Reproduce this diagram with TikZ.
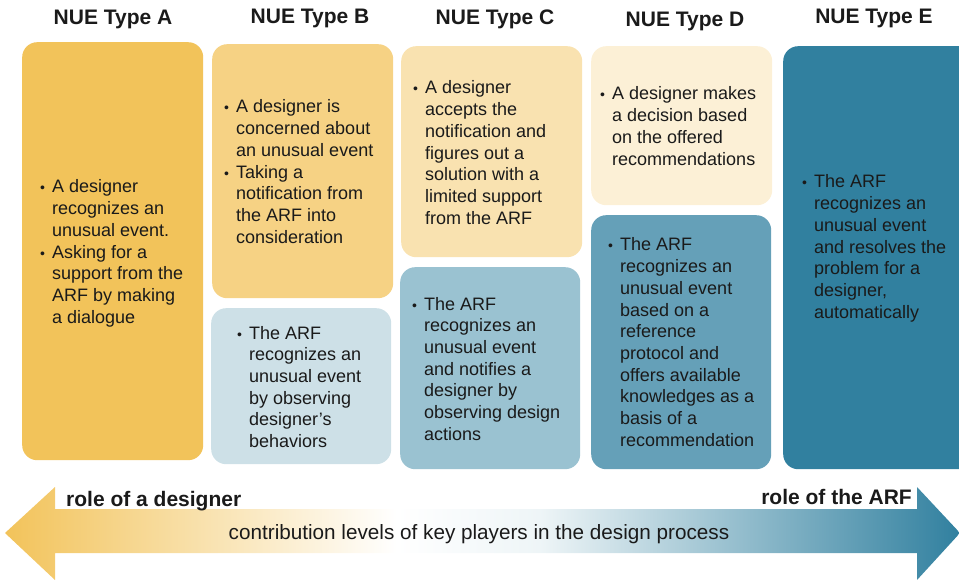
\documentclass[tikz,border=0pt]{standalone}
\usepackage{fontspec}
\setmainfont{Liberation Sans}
\definecolor{cA}{HTML}{F2C35A}
\definecolor{cBt}{HTML}{F6D284}
\definecolor{cCt}{HTML}{F9E2B0}
\definecolor{cDt}{HTML}{FCF0D6}
\definecolor{cBb}{HTML}{CDE0E7}
\definecolor{cCb}{HTML}{9AC2D1}
\definecolor{cDb}{HTML}{65A0B8}
\definecolor{cE}{HTML}{31809F}
\definecolor{txtc}{HTML}{1A1A1A}
\definecolor{midb}{HTML}{EEF5F7}
\pgfdeclarehorizontalshading{arrshade}{100bp}{color(0bp)=(cA); color(25bp)=(cA); color(45.5bp)=(white); color(53bp)=(midb); color(75bp)=(cE); color(100bp)=(cE)}
\newcommand{\bul}{\makebox[12pt][l]{\fontsize{14}{14}\selectfont •}}
\newcommand{\ind}{\hspace*{12pt}}
\tikzset{
  box/.style={rounded corners=15pt, anchor=north west, inner sep=0pt, draw=none},
  hdr/.style={font=\bfseries\fontsize{21}{25}\selectfont, text=txtc, inner sep=0pt},
  body/.style={anchor=base west, inner sep=0pt, text=txtc, font=\fontsize{18}{21.7}\selectfont},
  lbl/.style={font=\bfseries\fontsize{21}{25}\selectfont, text=txtc, inner sep=0pt},
}
\begin{document}
\begin{tikzpicture}[x=1pt,y=-1pt]
\useasboundingbox (0,0) rectangle (959,580);
\clip (0,0) rectangle (959,580);
% headers
\node[hdr] (hA) at (113,19) {NUE Type A};
\node[hdr] (hB) at (310,18) {NUE Type B};
\node[hdr] (hC) at (495,19) {NUE Type C};
\node[hdr] (hD) at (685,21) {NUE Type D};
\node[hdr] (hE) at (874,18) {NUE Type E};
% boxes
\node[box, fill=cA, minimum width=181pt, minimum height=418pt] (bA) at (22,42) {};
\node[box, fill=cBt, minimum width=181pt, minimum height=254pt] (bBt) at (212,44) {};
\node[box, fill=cBb, minimum width=180pt, minimum height=156pt] (bBb) at (211,308) {};
\node[box, fill=cCt, minimum width=181pt, minimum height=211pt] (bCt) at (401,46) {};
\node[box, fill=cCb, minimum width=180pt, minimum height=202pt] (bCb) at (400,267) {};
\node[box, fill=cDt, minimum width=181pt, minimum height=159pt] (bDt) at (591,46) {};
\node[box, fill=cDb, minimum width=180pt, minimum height=254pt] (bDb) at (591,215) {};
\node[box, fill=cE, minimum width=195pt, minimum height=423pt] (bE) at (783,46) {};
% texts
\node[body] (tA) at (40,193) {\begin{tabular}[t]{@{}l@{}}\bul A designer\\ \ind recognizes an\\ \ind unusual event.\\ \bul Asking for a\\ \ind support from the\\ \ind ARF by making\\ \ind a dialogue\end{tabular}};
\node[body] (tBt) at (224,113) {\begin{tabular}[t]{@{}l@{}}\bul A designer is\\ \ind concerned about\\ \ind an unusual event\\ \bul Taking a\\ \ind notification from\\ \ind the ARF into\\ \ind consideration\end{tabular}};
\node[body] (tBb) at (237,339) {\begin{tabular}[t]{@{}l@{}}\bul The ARF\\ \ind recognizes an\\ \ind unusual event\\ \ind by observing\\ \ind designer’s\\ \ind behaviors\end{tabular}};
\node[body] (tCt) at (413,94) {\begin{tabular}[t]{@{}l@{}}\bul A designer\\ \ind accepts the\\ \ind notification and\\ \ind figures out a\\ \ind solution with a\\ \ind limited support\\ \ind from the ARF\end{tabular}};
\node[body] (tCb) at (412,310) {\begin{tabular}[t]{@{}l@{}}\bul The ARF\\ \ind recognizes an\\ \ind unusual event\\ \ind and notifies a\\ \ind designer by\\ \ind observing design\\ \ind actions\end{tabular}};
\node[body] (tDt) at (600,100) {\begin{tabular}[t]{@{}l@{}}\bul A designer makes\\ \ind a decision based\\ \ind on the offered\\ \ind recommendations\end{tabular}};
\node[body] (tDb) at (608,251) {\begin{tabular}[t]{@{}l@{}}\bul The ARF\\ \ind recognizes an\\ \ind unusual event\\ \ind based on a\\ \ind reference\\ \ind protocol and\\ \ind offers available\\ \ind knowledges as a\\ \ind basis of a\\ \ind recommendation\end{tabular}};
\node[body] (tE) at (802,188) {\begin{tabular}[t]{@{}l@{}}\bul The ARF\\ \ind recognizes an\\ \ind unusual event\\ \ind and resolves the\\ \ind problem for a\\ \ind designer,\\ \ind automatically\end{tabular}};
% arrow
\shade[shading=arrshade] (5,533) -- (55,487) -- (55,509) -- (917,509) -- (917,487) -- (960,533) -- (917,580) -- (917,553) -- (55,553) -- (55,580) -- cycle;
\node[lbl, anchor=base west] (rl) at (66,506) {role of a designer};
\node[lbl, anchor=base east] (rr) at (912,504) {role of the ARF};
\node[text=txtc, font=\fontsize{20.7}{25}\selectfont, inner sep=0pt] (ct) at (479,534) {contribution levels of key players in the design process};
\end{tikzpicture}
\end{document}
